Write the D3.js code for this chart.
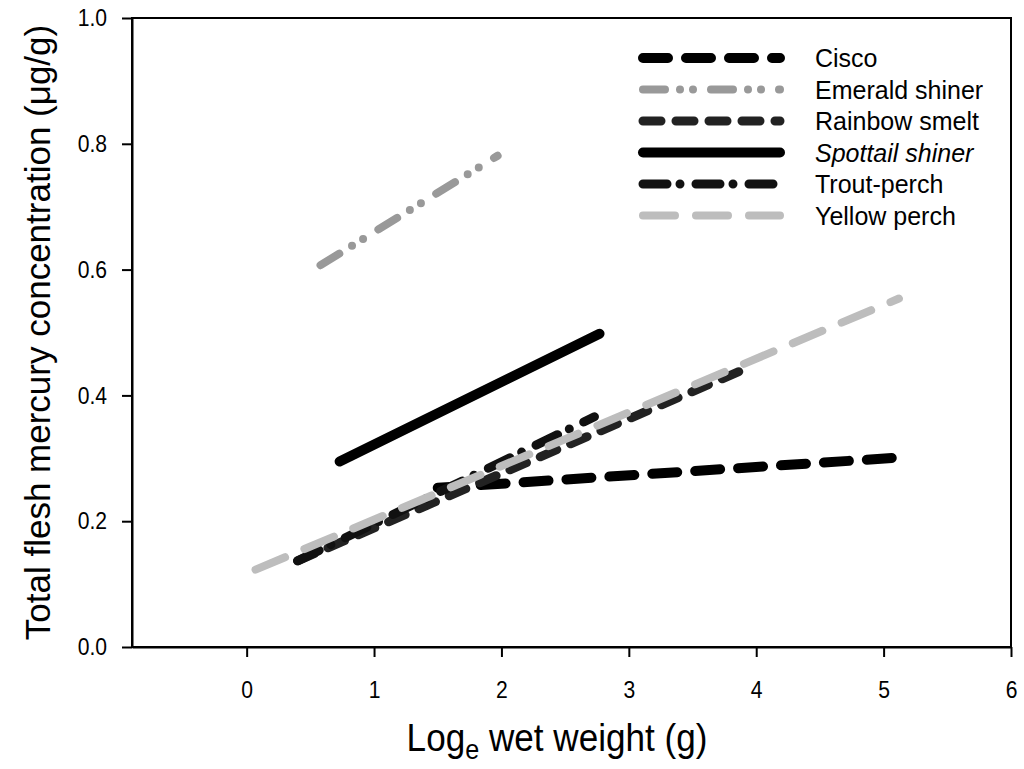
<!DOCTYPE html>
<html>
<head>
<meta charset="utf-8">
<script src="https://cdnjs.cloudflare.com/ajax/libs/d3/7.8.5/d3.min.js"></script>
<style>
    body { margin: 0; background: #fff; }
    text { font-family: "Liberation Sans", Arial, sans-serif; fill: #000; }
</style>
</head>
<body>
<div id="chart"></div>
<script>
// species, in legend order
var species = ['Cisco', 'Emerald shiner', 'Rainbow smelt', 'Spottail shiner', 'Trout-perch', 'Yellow perch']
// regression line ends: [x0, x1] and [y0, y1]
var xStart = [1.50, 0.58, 0.40, 0.73, 0.40, 0.07]
var xEnd   = [5.11, 1.97, 3.97, 2.77, 2.73, 5.12]
var yStart = [0.253, 0.607, 0.137, 0.295, 0.137, 0.123]
var yEnd   = [0.301, 0.781, 0.447, 0.498, 0.366, 0.554]
var xTicks = [0, 1, 2, 3, 4, 5, 6]
var yTicks = [0, 0.2, 0.4, 0.6, 0.8, 1.0]

var width = 1024, height = 769
var margin = {left: 132, right: 13, top: 18, bottom: 122}
var font = '"Liberation Sans", Arial, sans-serif'

var xScale = d3.scaleLinear().domain([-0.9, 6]).range([margin.left, width - margin.right])
var yScale = d3.scaleLinear().domain([0, 1]).range([height - margin.bottom, margin.top])

var styles = {
    'Cisco':           {color: '#000', w: 10, dash: '25,18'},
    'Emerald shiner':  {color: '#999', w: 8, dash: '22,15,0,13,0,18'},
    'Rainbow smelt':   {color: '#222', w: 9, dash: '18,15'},
    'Spottail shiner': {color: '#000', w: 10, dash: null},
    'Trout-perch':     {color: '#111', w: 9, dash: '24,13,0,16'},
    'Yellow perch':    {color: '#bdbdbd', w: 8, dash: '32,21'}
}

var data = species.map((name, i) => ({
    name: name,
    pts: [[xStart[i], yStart[i]], [xEnd[i], yEnd[i]]]
}))

var svg = d3.select('#chart').append('svg')
    .attr('width', width)
    .attr('height', height)

var line = d3.line()
    .x(d => xScale(d[0]))
    .y(d => yScale(d[1]))

// frame
svg.append('rect')
    .attr('x', xScale(-0.9))
    .attr('y', yScale(1))
    .attr('width', xScale(6) - xScale(-0.9))
    .attr('height', yScale(0) - yScale(1))
    .style('fill', 'none')
    .style('stroke', '#000')
    .style('stroke-width', 2)

var xAxis = d3.axisBottom(xScale).tickValues(xTicks).tickFormat(d3.format('d')).tickSize(10).tickSizeOuter(0)
var yAxis = d3.axisLeft(yScale).tickValues(yTicks).tickFormat(d3.format('.1f')).tickSize(10).tickSizeOuter(0)

// the printed figure has tall, narrow lettering
var squeeze = 0.88

var gx = svg.append('g')
    .attr('transform', `translate(0, ${yScale(0)})`)
    .call(xAxis)
gx.select('.domain').style('stroke-width', 2)
gx.selectAll('.tick line').style('stroke-width', 2)
gx.selectAll('.tick text')
    .attr('y', 34)
    .attr('transform', `scale(${squeeze},1)`)
    .style('font-size', '24px')
    .style('font-family', font)

var gy = svg.append('g')
    .attr('transform', `translate(${xScale(-0.9)}, 0)`)
    .call(yAxis)
gy.select('.domain').style('stroke-width', 2)
gy.selectAll('.tick line').style('stroke-width', 2)
gy.selectAll('.tick text')
    .attr('x', -25 / squeeze)
    .attr('transform', `scale(${squeeze},1)`)
    .style('font-size', '24px')
    .style('font-family', font)

// regression lines
var lines = svg.append('g').attr('class', 'lines')
lines.selectAll('.line')
    .data(data).enter()
    .append('path')
    .attr('class', 'line')
    .attr('d', d => line(d.pts))
    .style('fill', 'none')
    .style('stroke', d => styles[d.name].color)
    .style('stroke-width', d => styles[d.name].w)
    .style('stroke-dasharray', d => styles[d.name].dash)
    .style('stroke-linecap', 'round')

// legend
var legend = svg.append('g').attr('class', 'legend')
var rows = legend.selectAll('.row')
    .data(data).enter()
    .append('g')
    .attr('class', 'row')
    .attr('transform', (d, i) => `translate(0, ${58 + i * 31.5})`)

rows.append('line')
    .attr('x1', 643).attr('x2', 780)
    .attr('y1', 0).attr('y2', 0)
    .style('stroke', d => styles[d.name].color)
    .style('stroke-width', d => styles[d.name].w)
    .style('stroke-dasharray', d => styles[d.name].dash)
    .style('stroke-linecap', 'round')

rows.append('text')
    .attr('x', 815)
    .attr('y', 0)
    .attr('dy', '0.36em')
    .style('font-size', '25px')
    .style('font-style', d => d.name == 'Spottail shiner' ? 'italic' : 'normal')
    .text(d => d.name)

// axis titles
svg.append('text')
    .attr('transform', `translate(50, ${(yScale(0) + yScale(1)) / 2}) rotate(-90)`)
    .attr('text-anchor', 'middle')
    .style('font-size', '35px')
    .text('Total flesh mercury concentration (μg/g)')

var xt = svg.append('text')
    .attr('transform', `translate(557, 751) scale(0.9,1)`)
    .attr('text-anchor', 'middle')
    .style('font-size', '39px')
xt.append('tspan').text('Log')
xt.append('tspan').attr('dy', 8).style('font-size', '28px').text('e')
xt.append('tspan').attr('dy', -8).text(' wet weight (g)')
</script>
</body>
</html>
